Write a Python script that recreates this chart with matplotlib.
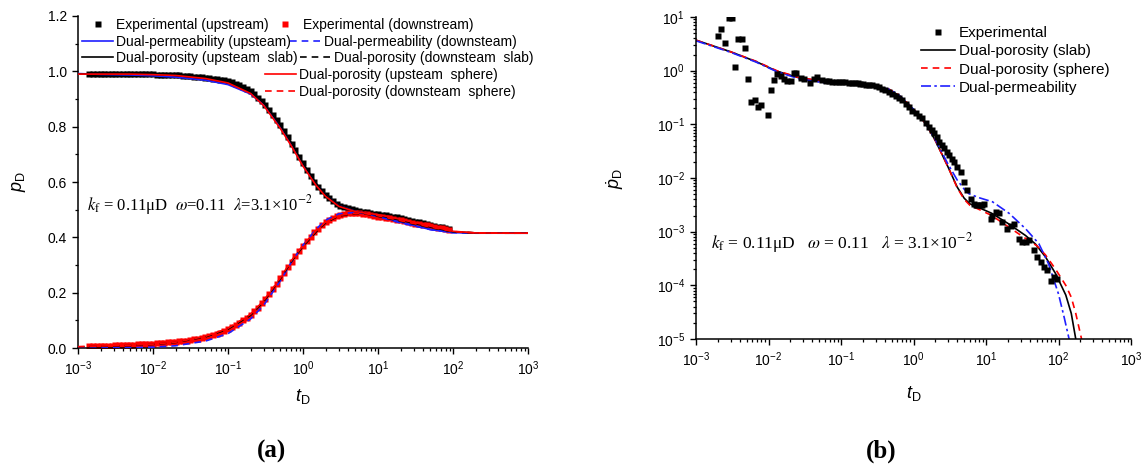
import matplotlib
matplotlib.use('Agg')
import matplotlib.pyplot as plt
from matplotlib.ticker import MultipleLocator, LogLocator, FormatStrFormatter, NullFormatter
from matplotlib.lines import Line2D
from matplotlib.legend import Legend

plt.rcParams['font.family'] = ['Liberation Sans', 'DejaVu Sans']
plt.rcParams['mathtext.fontset'] = 'custom'
plt.rcParams['mathtext.rm'] = 'Liberation Sans'
plt.rcParams['mathtext.it'] = 'Liberation Sans:italic'
plt.rcParams['mathtext.bf'] = 'Liberation Sans:bold'

# ---------------- (a) pressure, experimental ----------------
t_exp = [0.00141, 0.00158, 0.00178, 0.00200, 0.00224, 0.00251, 0.00282, 0.00316, 0.00355, 0.00398,
         0.00447, 0.00501, 0.00562, 0.00631, 0.00708, 0.00794, 0.00891, 0.0100, 0.0112, 0.0126,
         0.0141, 0.0158, 0.0178, 0.0200, 0.0224, 0.0251, 0.0282, 0.0316, 0.0355, 0.0398,
         0.0447, 0.0501, 0.0562, 0.0631, 0.0708, 0.0794, 0.0891, 0.100, 0.112, 0.126,
         0.141, 0.158, 0.178, 0.200, 0.224, 0.251, 0.282, 0.316, 0.355, 0.398,
         0.447, 0.501, 0.562, 0.631, 0.708, 0.794, 0.891, 1.00, 1.12, 1.26,
         1.41, 1.58, 1.78, 2.00, 2.24, 2.51, 2.82, 3.16, 3.55, 3.98,
         4.47, 5.01, 5.62, 6.31, 7.08, 7.94, 8.91, 10.0, 11.2, 12.6,
         14.1, 15.8, 17.8, 20.0, 22.4, 25.1, 28.2, 31.6, 35.5, 39.8,
         44.7, 50.1, 56.2, 63.1, 70.8, 79.4, 89.1]
p_up = [0.990, 0.990, 0.991, 0.991, 0.991, 0.991, 0.991, 0.991, 0.991, 0.991,
        0.990, 0.990, 0.990, 0.990, 0.990, 0.989, 0.989, 0.989, 0.988, 0.988,
        0.987, 0.987, 0.986, 0.986, 0.985, 0.984, 0.983, 0.982, 0.981, 0.980,
        0.979, 0.977, 0.976, 0.974, 0.972, 0.970, 0.968, 0.965, 0.960, 0.955,
        0.950, 0.944, 0.937, 0.928, 0.917, 0.905, 0.892, 0.877, 0.861, 0.843,
        0.825, 0.805, 0.784, 0.762, 0.739, 0.715, 0.692, 0.670, 0.645, 0.622,
        0.601, 0.583, 0.567, 0.553, 0.541, 0.530, 0.522, 0.515, 0.510, 0.505,
        0.501, 0.498, 0.495, 0.493, 0.490, 0.488, 0.486, 0.484, 0.482, 0.480,
        0.477, 0.475, 0.472, 0.469, 0.466, 0.463, 0.460, 0.457, 0.454, 0.451,
        0.448, 0.445, 0.442, 0.439, 0.436, 0.433, 0.430]
p_down = [0.007, 0.007, 0.008, 0.008, 0.008, 0.009, 0.009, 0.010, 0.010, 0.011,
          0.011, 0.012, 0.012, 0.013, 0.014, 0.014, 0.015, 0.016, 0.017, 0.018,
          0.019, 0.020, 0.021, 0.023, 0.024, 0.025, 0.027, 0.029, 0.031, 0.034,
          0.036, 0.039, 0.043, 0.047, 0.051, 0.056, 0.063, 0.070, 0.077, 0.084,
          0.092, 0.100, 0.109, 0.118, 0.132, 0.146, 0.161, 0.177, 0.195, 0.214,
          0.233, 0.252, 0.272, 0.292, 0.312, 0.331, 0.349, 0.367, 0.386, 0.403,
          0.418, 0.431, 0.443, 0.454, 0.463, 0.471, 0.477, 0.481, 0.485, 0.487,
          0.488, 0.488, 0.487, 0.486, 0.484, 0.481, 0.478, 0.475, 0.473, 0.471,
          0.469, 0.467, 0.464, 0.461, 0.458, 0.455, 0.452, 0.449, 0.447, 0.445,
          0.443, 0.440, 0.438, 0.435, 0.433, 0.430, 0.428]

# ---------------- (a) pressure, models ----------------
t_mod = [0.001, 0.002, 0.005, 0.01, 0.02, 0.05, 0.1, 0.2, 0.3, 0.5, 0.7, 1, 1.5, 2, 3, 5, 7, 10,
         20, 50, 100, 200, 500, 1000]
up_perm = [0.992, 0.989, 0.987, 0.984, 0.979, 0.968, 0.952, 0.918, 0.878, 0.800, 0.738, 0.664,
           0.593, 0.552, 0.515, 0.494, 0.486, 0.477, 0.455, 0.428, 0.417, 0.415, 0.415, 0.415]
down_perm = [0.0, 0.0003, 0.001, 0.003, 0.008, 0.025, 0.052, 0.105, 0.155, 0.243, 0.310, 0.372,
             0.430, 0.462, 0.485, 0.490, 0.485, 0.475, 0.452, 0.428, 0.417, 0.415, 0.415, 0.415]
up_slab = [0.990, 0.990, 0.990, 0.989, 0.986, 0.976, 0.963, 0.928, 0.886, 0.805, 0.742, 0.668,
           0.595, 0.553, 0.515, 0.493, 0.486, 0.480, 0.462, 0.437, 0.420, 0.416, 0.415, 0.415]
down_slab = [0.004, 0.006, 0.009, 0.013, 0.020, 0.040, 0.068, 0.118, 0.168, 0.250, 0.312, 0.367,
             0.420, 0.452, 0.477, 0.486, 0.484, 0.476, 0.458, 0.435, 0.420, 0.416, 0.415, 0.415]
up_sphere = [0.990, 0.990, 0.990, 0.988, 0.985, 0.974, 0.958, 0.920, 0.876, 0.793, 0.730, 0.657,
             0.587, 0.548, 0.512, 0.493, 0.487, 0.482, 0.465, 0.440, 0.422, 0.416, 0.415, 0.415]
down_sphere = [0.005, 0.007, 0.010, 0.014, 0.021, 0.042, 0.071, 0.122, 0.172, 0.254, 0.316, 0.371,
               0.424, 0.455, 0.479, 0.487, 0.485, 0.478, 0.460, 0.437, 0.421, 0.416, 0.415, 0.415]

# ---------------- (b) derivative ----------------
t_der = [0.00203, 0.00223, 0.00249, 0.00283, 0.00314, 0.00345, 0.00383, 0.00426, 0.00474, 0.0052,
         0.0058, 0.00645, 0.00716, 0.00796, 0.00975, 0.0108, 0.0120, 0.0132, 0.0147, 0.0165,
         0.0182, 0.0202, 0.0225, 0.0242, 0.0281, 0.0309, 0.0374, 0.0424, 0.0462, 0.0552,
         0.0615, 0.068, 0.076, 0.085, 0.095, 0.104, 0.115, 0.127, 0.14, 0.155,
         0.17, 0.185, 0.20, 0.22, 0.245, 0.27, 0.30, 0.33, 0.37, 0.41,
         0.46, 0.51, 0.57, 0.63, 0.70, 0.78, 0.87, 0.96, 1.07, 1.19,
         1.32, 1.47, 1.64, 1.78, 1.92, 2.08, 2.25, 2.44, 2.64, 2.86,
         3.09, 3.35, 3.62, 4.02, 4.48, 4.97, 5.52, 6.15, 6.8, 7.2,
         7.6, 8.4, 8.9, 9.4, 11.6, 12.2, 13.6, 15.1, 16.8, 19.7,
         21.9, 24.3, 28.5, 31.7, 35.3, 39.2, 45.9, 51, 56.8, 63.1,
         70.2, 78, 86.7, 96.2]
p_der = [4.5, 5.97, 3.27, 9.4, 9.7, 1.19, 3.9, 3.9, 2.6, 0.70,
         0.26, 0.28, 0.21, 0.23, 0.15, 0.44, 0.68, 0.86, 0.81, 0.70,
         0.65, 0.65, 0.90, 0.91, 0.73, 0.71, 0.58, 0.70, 0.76, 0.67,
         0.64, 0.63, 0.62, 0.62, 0.61, 0.62, 0.61, 0.60, 0.59, 0.58,
         0.58, 0.57, 0.56, 0.55, 0.54, 0.53, 0.51, 0.50, 0.45, 0.43,
         0.40, 0.37, 0.34, 0.31, 0.28, 0.24, 0.21, 0.18, 0.16, 0.145,
         0.13, 0.105, 0.090, 0.078, 0.068, 0.057, 0.047, 0.041, 0.036, 0.031,
         0.027, 0.023, 0.020, 0.016, 0.013, 0.0085, 0.0059, 0.0041, 0.0033, 0.0031,
         0.0031, 0.0032, 0.0031, 0.0033, 0.00175, 0.0020, 0.0023, 0.0022, 0.0015, 0.00114,
         0.0013, 0.0014, 0.00074, 0.00064, 0.00064, 0.00069, 0.00045, 0.00034, 0.00027, 0.00022,
         0.00019, 0.000123, 0.000142, 0.000132]

t_slab = [0.001, 0.003, 0.0067, 0.013, 0.026, 0.055, 0.1, 0.16, 0.3, 0.46, 0.6, 0.78, 1.0, 1.5,
          2.0, 3.0, 4.0, 5.0, 6.0, 8.0, 12, 20, 35, 48, 66, 91, 126, 150, 173]
d_slab = [3.7, 2.25, 1.48, 0.98, 0.74, 0.63, 0.60, 0.58, 0.53, 0.44, 0.36, 0.26, 0.19, 0.10,
          0.05, 0.016, 0.0068, 0.0042, 0.0033, 0.0028, 0.0022, 0.00143, 0.00085, 0.00059,
          0.00034, 0.000166, 0.000066, 0.00003, 0.00001]
t_sphere = [0.001, 0.003, 0.0067, 0.013, 0.026, 0.055, 0.1, 0.16, 0.3, 0.46, 0.6, 0.78, 1.0, 1.5,
            2.0, 3.0, 4.0, 5.0, 6.0, 8.0, 12, 20, 35, 50, 66, 91, 126, 150, 173, 208]
d_sphere = [3.7, 2.25, 1.5, 1.0, 0.75, 0.64, 0.61, 0.585, 0.535, 0.45, 0.37, 0.27, 0.195, 0.10,
            0.05, 0.016, 0.0066, 0.0040, 0.0031, 0.0026, 0.0020, 0.00125, 0.00075, 0.00055,
            0.00037, 0.0002, 0.0001, 0.00006, 0.00003, 0.00001]
t_perm = [0.001, 0.003, 0.0067, 0.013, 0.026, 0.055, 0.1, 0.16, 0.3, 0.46, 0.6, 0.78, 1.0, 1.5,
          2.0, 3.0, 4.0, 5.0, 5.8, 8.0, 12.3, 20.8, 35, 53.5, 73, 100, 120, 140]
d_perm = [3.6, 2.2, 1.45, 0.96, 0.71, 0.60, 0.57, 0.55, 0.51, 0.45, 0.37, 0.27, 0.19, 0.10,
          0.052, 0.018, 0.0092, 0.0062, 0.0051, 0.0043, 0.0036, 0.0022, 0.00114, 0.0006,
          0.00025, 0.000069, 0.000025, 0.00001]

W, H = 1146, 465
fig = plt.figure(figsize=(W / 100, H / 100), dpi=100)


def px_axes(x0, y0, x1, y1):
    return fig.add_axes([x0 / W, 1 - y1 / H, (x1 - x0) / W, (y1 - y0) / H])


def style_axes(ax):
    for s in ['top', 'right']:
        ax.spines[s].set_visible(False)
    for s in ['left', 'bottom']:
        ax.spines[s].set_linewidth(1.1)
    ax.tick_params(which='major', direction='out', length=4.5, width=1.0, labelsize=10)
    ax.tick_params(which='minor', direction='out', length=2.5, width=0.9)
    ax.set_xscale('log')
    ax.set_xlim(1e-3, 1e3)
    ax.xaxis.set_major_locator(LogLocator(base=10, numticks=10))
    ax.xaxis.set_minor_locator(LogLocator(base=10, subs=range(2, 10), numticks=20))
    ax.xaxis.set_minor_formatter(NullFormatter())


dash = (0, (4, 3))
dashdot = (0, (6, 2, 1.5, 2))
blue = '#1f1fff'

# ---------------- panel (a) ----------------
ax = px_axes(78, 16, 528, 348)
style_axes(ax)
ax.set_ylim(0, 1.2)
ax.yaxis.set_major_locator(MultipleLocator(0.2))
ax.yaxis.set_minor_locator(MultipleLocator(0.1))
ax.yaxis.set_major_formatter(FormatStrFormatter('%.1f'))

ax.plot(t_exp, p_up, 's', ms=4.3, color='black', mec='none', zorder=2)
ax.plot(t_exp, p_down, 's', ms=4.3, color='red', mec='none', zorder=2)
ax.plot(t_mod, up_perm, '-', color=blue, lw=1.2, zorder=3)
ax.plot(t_mod, down_perm, ls=dash, color=blue, lw=1.2, zorder=3)
ax.plot(t_mod, up_slab, '-', color='black', lw=1.2, zorder=3)
ax.plot(t_mod, down_slab, ls=dash, color='black', lw=1.2, zorder=3)
ax.plot(t_mod, up_sphere, '-', color='red', lw=1.2, zorder=3)
ax.plot(t_mod, down_sphere, ls=dash, color='red', lw=1.2, zorder=3)

ax.set_xlabel(r'$t_{\mathrm{D}}$', fontsize=13, labelpad=7)
ax.set_ylabel(r'$p_{\mathrm{D}}$', fontsize=13, labelpad=14)

ax.text(0.019, 0.43, r'$k_{\mathrm{f}}$ = 0.11μD  $\omega$=0.11  $\lambda$=3.1×10$^{-2}$',
        transform=ax.transAxes, fontsize=12, family='Liberation Serif', math_fontfamily='stix',
        va='center', ha='left')

# legend entries in Origin style, each placed by hand (pixel coords of the handle start)
entries_a = [
    (Line2D([], [], ls='none', marker='s', ms=3.8, color='black', mec='none'), 'Experimental (upstream)', 82, 25),
    (Line2D([], [], ls='none', marker='s', ms=3.8, color='red', mec='none'), 'Experimental (downstream)', 269, 25),
    (Line2D([], [], ls='-', color=blue, lw=1.2), 'Dual-permeability (upsteam)', 82, 41.7),
    (Line2D([], [], ls=dash, color=blue, lw=1.2), 'Dual-permeability (downsteam)', 290, 41.7),
    (Line2D([], [], ls='-', color='black', lw=1.2), 'Dual-porosity (upsteam  slab)', 82, 58.3),
    (Line2D([], [], ls=dash, color='black', lw=1.2), 'Dual-porosity (downsteam  slab)', 300, 58.3),
    (Line2D([], [], ls='-', color='red', lw=1.2), 'Dual-porosity (upsteam  sphere)', 265, 75),
    (Line2D([], [], ls=dash, color='red', lw=1.2), 'Dual-porosity (downsteam  sphere)', 265, 91.7),
]
for h, lab, xp, yp in entries_a:
    leg = Legend(ax, [h], [lab], loc='center left',
                 bbox_to_anchor=((xp - 78) / 450, (348 - yp) / 332),
                 frameon=False, borderpad=0, borderaxespad=0, handlelength=2.25,
                 handletextpad=0.2, fontsize=10)
    ax.add_artist(leg)

# ---------------- panel (b) ----------------
bx = px_axes(696, 17, 1131, 339)
style_axes(bx)
bx.set_yscale('log')
bx.set_ylim(1e-5, 1e1)
bx.yaxis.set_major_locator(LogLocator(base=10, numticks=10))
bx.yaxis.set_minor_locator(LogLocator(base=10, subs=range(2, 10), numticks=20))
bx.yaxis.set_minor_formatter(NullFormatter())

l_slab, = bx.plot(t_slab, d_slab, '-', color='black', lw=1.2, zorder=2)
l_sph, = bx.plot(t_sphere, d_sphere, ls=dash, color='red', lw=1.2, zorder=2)
l_perm, = bx.plot(t_perm, d_perm, ls=dashdot, color=blue, lw=1.2, zorder=2)
m_exp, = bx.plot(t_der, p_der, 's', ms=3.8, color='black', mec='none', zorder=3)

bx.set_xlabel(r'$t_{\mathrm{D}}$', fontsize=13, labelpad=11)
bx.set_ylabel(r'$\dot{p}_{\mathrm{D}}$', fontsize=13, labelpad=22)

bx.text(0.035, 0.298, r'$k_{\mathrm{f}}$ = 0.11μD   $\omega$ = 0.11   $\lambda$ = 3.1×10$^{-2}$',
        transform=bx.transAxes, fontsize=12.5, family='Liberation Serif', math_fontfamily='stix',
        va='center', ha='left')

bx.legend([m_exp, l_slab, l_sph, l_perm],
          ['Experimental', 'Dual-porosity (slab)', 'Dual-porosity (sphere)', 'Dual-permeability'],
          loc='upper left', bbox_to_anchor=((921 - 696) / 435, (339 - 26) / 322),
          frameon=False, borderpad=0, borderaxespad=0, handlelength=2.2, handletextpad=0.3,
          labelspacing=0.28, fontsize=11)

fig.text(272 / W, 1 - 451 / H, '(a)', ha='center', va='center', fontsize=18,
         family='Liberation Serif', fontweight='bold')
fig.text(881 / W, 1 - 451 / H, '(b)', ha='center', va='center', fontsize=18,
         family='Liberation Serif', fontweight='bold')

fig.savefig('out.png', dpi=100)
